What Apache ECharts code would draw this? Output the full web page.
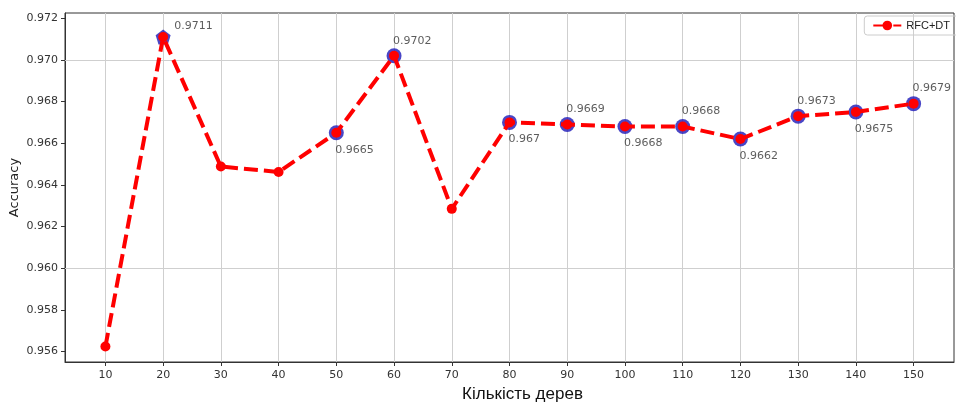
<!DOCTYPE html>
<html>
<head>
<meta charset="utf-8">
<script src="https://cdn.jsdelivr.net/npm/echarts@6/dist/echarts.min.js"></script>
<style>
  html, body { margin: 0; padding: 0; background: #fff; }
  #chart { width: 956px; height: 407px; }
</style>
</head>
<body>
<div id="chart"></div>
<script>
var trees = [10, 20, 30, 40, 50, 60, 70, 80, 90, 100, 110, 120, 130, 140, 150];
var accuracy = [0.95624, 0.9711, 0.96488, 0.96462, 0.9665, 0.9702, 0.96285, 0.967, 0.9669, 0.9668, 0.9668, 0.9662, 0.9673, 0.9675, 0.9679];
// which points carry an annotation, and on which side
var labelSide = [null, 'up', null, null, 'down', 'up', null, 'down', 'up', 'down', 'up', 'down', 'up', 'down', 'up'];
var labelText = ['', '0.9711', '', '', '0.9665', '0.9702', '', '0.967', '0.9669', '0.9668', '0.9668', '0.9662', '0.9673', '0.9675', '0.9679'];
var xTicks = [10, 20, 30, 40, 50, 60, 70, 80, 90, 100, 110, 120, 130, 140, 150];
var yTicks = [0.956, 0.958, 0.960, 0.962, 0.964, 0.966, 0.968, 0.970, 0.972];

(function () {
    var myChart = echarts.init(document.getElementById('chart'));
    var pentagon = 'path://M0,-1 L0.951,-0.309 L0.588,0.809 L-0.588,0.809 L-0.951,-0.309 Z';

    var lineData = [];
    var markData = [];
    for (var i = 0; i < trees.length; i++) {
        lineData.push([trees[i], accuracy[i]]);
        if (!labelSide[i]) continue;
        var up = labelSide[i] === 'up';
        markData.push({
            value: [trees[i], accuracy[i]],
            symbol: i === 1 ? pentagon : 'circle',
            label: {
                show: true,
                formatter: labelText[i],
                position: up ? 'top' : 'bottom',
                align: 'left',
                distance: i === 1 ? -2 : (up ? 2 : 4),
                offset: [i === 1 ? 11 : -1, 0]
            }
        });
    }

    // grid lines at the tick values
    var gridLines = [];
    xTicks.forEach(function (v) { gridLines.push({ xAxis: v }); });
    yTicks.forEach(function (v) { gridLines.push({ yAxis: v }); });

    var option = {
        animation: false,
        textStyle: { fontFamily: 'DejaVu Sans' },
        grid: {
            left: 65, right: 2, top: 13, bottom: 45,
            outerBoundsMode: 'none',
            show: true, borderColor: '#333', borderWidth: 1
        },
        legend: {
            data: ['RFC+DT'],
            right: -6,
            top: 16,
            padding: [4, 12, 4, 8],
            borderColor: '#ccc',
            borderWidth: 1,
            borderRadius: 3,
            itemWidth: 28,
            itemHeight: 12,
            textStyle: { fontFamily: 'Liberation Sans', fontSize: 11, color: '#222' }
        },
        xAxis: {
            type: 'value',
            min: 3,
            max: 157,
            name: 'Кількість дерев',
            nameLocation: 'middle',
            nameGap: 24,
            nameMoveOverlap: false,
            nameTextStyle: { fontFamily: 'Liberation Sans', fontSize: 17, color: '#111', padding: [0, 0, 0, 26] },
            axisLine: { lineStyle: { color: '#333' } },
            axisTick: { length: 4, customValues: xTicks, lineStyle: { color: '#333' } },
            axisLabel: { customValues: xTicks, color: '#333', fontSize: 11, margin: 8 },
            splitLine: { show: false }
        },
        yAxis: {
            type: 'value',
            min: 0.9555,
            max: 0.97225,
            name: 'Accuracy',
            nameLocation: 'middle',
            nameGap: 44,
            nameMoveOverlap: false,
            nameTextStyle: { fontSize: 13, color: '#222' },
            axisLine: { show: true, lineStyle: { color: '#333' } },
            axisTick: { show: true, length: 4, customValues: yTicks, lineStyle: { color: '#333' } },
            axisLabel: {
                customValues: yTicks, color: '#333', fontSize: 11, margin: 7,
                formatter: function (v) { return v.toFixed(3); }
            },
            splitLine: { show: false }
        },
        series: [
            {
                name: 'marks',
                type: 'scatter',
                data: markData,
                symbolSize: 15,
                itemStyle: { color: '#1c18b8' },
                label: { color: '#333', fontSize: 11 },
                markLine: {
                    silent: true,
                    symbol: 'none',
                    label: { show: false },
                    lineStyle: { color: '#cfcfcf', width: 1, type: 'solid' },
                    data: gridLines,
                    z: 1
                },
                z: 2
            },
            {
                name: 'RFC+DT',
                type: 'line',
                data: lineData,
                symbol: 'circle',
                symbolSize: 10,
                showAllSymbol: true,
                color: '#ff0000',
                lineStyle: { color: '#ff0000', width: 4, type: [14, 6] },
                itemStyle: { color: '#ff0000', borderWidth: 0 },
                z: 3
            }
        ]
    };

    myChart.setOption(option);
    window.addEventListener('resize', function () {
        myChart.resize();
    });
})();
</script>
</body>
</html>
